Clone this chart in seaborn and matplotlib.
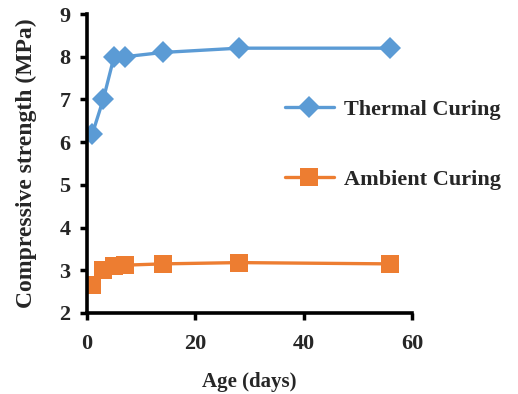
import matplotlib
matplotlib.use("Agg")
import matplotlib.pyplot as plt
import seaborn as sns
import pandas as pd

age_days = [1, 3, 5, 7, 14, 28, 56]
thermal = [6.2, 7.0, 8.0, 8.0, 8.1, 8.2, 8.2]
ambient = [2.65, 3.0, 3.1, 3.12, 3.15, 3.18, 3.15]
series_names = ["Thermal Curing", "Ambient Curing"]
x_ticks = [0, 20, 40, 60]
y_ticks = [2, 3, 4, 5, 6, 7, 8, 9]

df = pd.DataFrame({
    "Age": age_days * 2,
    "Strength": thermal + ambient,
    "Series": [series_names[0]] * len(age_days) + [series_names[1]] * len(age_days),
})

sns.set_theme(style="ticks")
plt.rcParams["font.family"] = ["Liberation Serif", "DejaVu Serif"]
plt.rcParams["font.weight"] = "bold"

fig = plt.figure(figsize=(5.18, 3.94), dpi=100)
ax = fig.add_axes([87/518, 1-313/394, (412-87)/518, (313-14)/394])

palette = {series_names[0]: "#5B9BD5", series_names[1]: "#ED7D31"}
markers = {series_names[0]: "D", series_names[1]: "s"}
sns.lineplot(data=df, x="Age", y="Strength", hue="Series", style="Series",
             palette=palette, markers=markers, dashes=False, ax=ax,
             linewidth=2.4, markeredgewidth=0)
for line in ax.lines:
    if line.get_marker() == "D":
        line.set_markersize(11)
    elif line.get_marker() == "s":
        line.set_markersize(13)

ax.set_xlim(0, 60)
ax.set_ylim(2, 9)
ax.set_xticks(x_ticks)
ax.set_yticks(y_ticks)
ax.set_xticklabels([str(t) for t in x_ticks], fontsize=16, fontweight="bold")
ax.set_yticklabels([str(t) for t in y_ticks], fontsize=16, fontweight="bold")
ax.tick_params(axis="both", direction="out", length=5, width=2.5, color="black", pad=7)
ax.tick_params(axis="x", pad=10)
for s in ["top", "right"]:
    ax.spines[s].set_visible(False)
for s in ["left", "bottom"]:
    ax.spines[s].set_linewidth(2.6)
    ax.spines[s].set_color("black")
ax.set_xlabel("Age (days)", fontsize=15, fontweight="bold", labelpad=13)
ax.set_ylabel("Compressive strength (MPa)", fontsize=17, fontweight="bold", labelpad=16)

handles, labels = ax.get_legend_handles_labels()
leg = ax.legend(handles, labels, loc="upper left", bbox_to_anchor=(285/518, 1-99/394),
                bbox_transform=fig.transFigure, frameon=False, borderpad=0, borderaxespad=0,
                handlelength=2.2, handletextpad=0.45, labelspacing=2.25,
                prop={"size": 16, "weight": "bold"})

fig.savefig("out.png", dpi=100)
